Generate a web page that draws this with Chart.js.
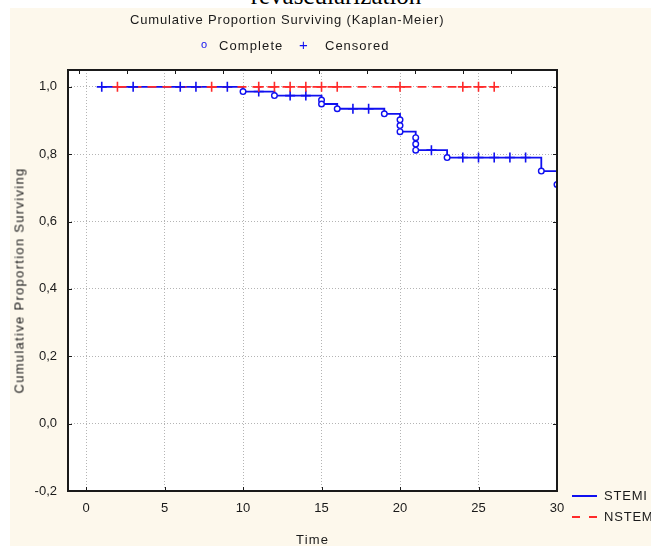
<!DOCTYPE html>
<html>
<head>
<meta charset="utf-8">
<script src="https://cdn.jsdelivr.net/npm/chart.js@4.4.1/dist/chart.umd.min.js"></script>
<style>
  body { margin: 0; background: #fff; }
  #wrap { position: relative; width: 651px; height: 546px; overflow: hidden; font-family: "Liberation Sans", Arial, sans-serif; color: #1a1a1a; }
  #bg { position: absolute; left: 10px; top: 8px; right: 0; bottom: 0; background: #fdf8ec; }
  #cap { position: absolute; left: 0; width: 672px; top: -18px; text-align: center; font: 25px "Liberation Serif", "Times New Roman", serif; color: #000; }
  #km { position: absolute; left: 0; top: 0; }
  .txt { position: absolute; font-size: 13px; white-space: nowrap; }
  .sw { position: absolute; height: 0; }
  #ytitle { position: absolute; left: -131px; top: 273px; width: 300px; text-align: center; transform: rotate(-90deg); letter-spacing: 1.3px; }
</style>
</head>
<body>
<div id="wrap">
  <div id="bg"></div>
  <div id="cap">revascularization</div>
  <canvas id="km" width="651" height="546"></canvas>
  <div class="txt" style="left:130px; top:12px; letter-spacing:0.85px;">Cumulative Proportion Surviving (Kaplan-Meier)</div>
  <div class="txt" style="left:201px; top:38px; color:#1010f0; font-size:11px;">o</div>
  <div class="txt" style="left:219px; top:38px; letter-spacing:1.1px;">Complete</div>
  <div class="txt" style="left:299px; top:36px; color:#1010f0; font-size:15px;">+</div>
  <div class="txt" style="left:325px; top:38px; letter-spacing:1px;">Censored</div>
  <div class="txt" id="ytitle">Cumulative Proportion Surviving</div>
  <div class="txt" style="left:296px; top:532px; letter-spacing:1.2px;">Time</div>
  <div class="sw" style="left:572px; top:495px; width:25px; border-top:2px solid #1010f0;"></div>
  <div class="txt" style="left:604px; top:488px; letter-spacing:0.8px;">STEMI</div>
  <div class="sw" style="left:572px; top:516px; width:8px; border-top:2px solid #ff2a2a;"></div>
  <div class="sw" style="left:589px; top:516px; width:8px; border-top:2px solid #ff2a2a;"></div>
  <div class="txt" style="left:604px; top:509px; letter-spacing:0.8px;">NSTEMI</div>
</div>
<script>
// Kaplan-Meier, STEMI: steps of the curve
const stemiTimes = [1, 10, 12, 15, 16, 19, 20, 21, 23, 29, 30];
const stemiSurv = [1.0, 0.986, 0.974, 0.949, 0.935, 0.920, 0.867, 0.812, 0.790, 0.750, 0.710];

// STEMI complete (events)
const stemiEventTimes = [10, 12, 15, 15, 16, 19, 20, 20, 20, 21, 21, 21, 23, 29, 30];
const stemiEventSurv = [0.986, 0.974, 0.961, 0.949, 0.935, 0.920, 0.902, 0.885, 0.867, 0.849, 0.830, 0.812, 0.790, 0.750, 0.710];

// STEMI censored
const stemiCensTimes = [1, 3, 6, 7, 9, 11, 13, 14, 17, 18, 22, 24, 25, 26, 27, 28];
const stemiCensSurv = [1, 1, 1, 1, 1, 0.986, 0.974, 0.974, 0.935, 0.935, 0.812, 0.790, 0.790, 0.790, 0.790, 0.790];

// NSTEMI: no events, only censored
const nstemiTimes = [2, 26];
const nstemiSurv = [1.0, 1.0];
const nstemiCensTimes = [2, 8, 11, 12, 13, 14, 15, 16, 20, 24, 25, 26];
const nstemiCensSurv = [1, 1, 1, 1, 1, 1, 1, 1, 1, 1, 1, 1];

// axis
const xTickValues = [0, 5, 10, 15, 20, 25, 30];
const yTickValues = [-0.2, 0, 0.2, 0.4, 0.6, 0.8, 1.0];

const BLUE = '#1010f0';
const RED = '#ff2a2a';
const INK = '#1a1a1a';

function pts(xs, ys) {
    return xs.map((x, i) => ({ x: x, y: ys[i] }));
}

// cadre noir + petites graduations vers l'interieur
const frameTicks = {
    id: 'frameTicks',
    afterDatasetsDraw(chart) {
        const { ctx, chartArea: a, scales } = chart;
        ctx.save();
        ctx.strokeStyle = INK;
        ctx.lineWidth = 1;
        ctx.beginPath();
        scales.x.ticks.forEach(t => {
            const px = Math.round(scales.x.getPixelForValue(t.value)) + 0.5;
            ctx.moveTo(px, a.bottom);
            ctx.lineTo(px, a.bottom - 4);
        });
        for (let k = 0; k <= 9; k++) {
            const px = Math.round(scales.x2.getPixelForValue(k)) + 0.5;
            ctx.moveTo(px, a.top);
            ctx.lineTo(px, a.top + 4);
        }
        scales.y.ticks.forEach(t => {
            const py = Math.round(scales.y.getPixelForValue(t.value)) + 0.5;
            ctx.moveTo(a.left, py);
            ctx.lineTo(a.left + 4, py);
            ctx.moveTo(a.right, py);
            ctx.lineTo(a.right - 4, py);
        });
        ctx.stroke();
        ctx.lineWidth = 2;
        ctx.strokeRect(a.left, a.top, a.right - a.left, a.bottom - a.top);
        ctx.restore();
    }
};

const plotBg = {
    id: 'plotBg',
    beforeDraw(chart) {
        const { ctx, chartArea: a } = chart;
        ctx.save();
        ctx.fillStyle = '#ffffff';
        ctx.fillRect(a.left, a.top, a.right - a.left, a.bottom - a.top);
        ctx.restore();
    }
};

const keepTicks = values => scale => {
    scale.ticks = values.map(v => ({ value: v }));
};

new Chart(document.getElementById('km'), {
    type: 'scatter',
    data: {
        datasets: [
            {
                label: 'NSTEMI censored',
                data: pts(nstemiCensTimes, nstemiCensSurv),
                pointStyle: 'cross',
                pointRadius: 5,
                borderColor: RED,
                backgroundColor: RED,
                pointBorderWidth: 1.6
            },
            {
                label: 'STEMI censored',
                data: pts(stemiCensTimes, stemiCensSurv),
                pointStyle: 'cross',
                pointRadius: 5,
                borderColor: BLUE,
                backgroundColor: BLUE,
                pointBorderWidth: 1.6
            },
            {
                label: 'STEMI complete',
                data: pts(stemiEventTimes, stemiEventSurv),
                pointStyle: 'circle',
                pointRadius: 2.8,
                borderColor: BLUE,
                backgroundColor: '#ffffff',
                pointBorderWidth: 1.4
            },
            {
                label: 'NSTEMI',
                data: pts(nstemiTimes, nstemiSurv),
                showLine: true,
                pointRadius: 0,
                borderColor: RED,
                borderWidth: 1.6,
                borderDash: [9, 6]
            },
            {
                label: 'STEMI',
                data: pts(stemiTimes, stemiSurv),
                showLine: true,
                stepped: true,
                pointRadius: 0,
                borderColor: BLUE,
                borderWidth: 1.8
            }
        ]
    },
    options: {
        responsive: false,
        animation: false,
        events: [],
        layout: { padding: { top: 70, right: 94, left: 0, bottom: 0 } },
        plugins: {
            legend: { display: false },
            tooltip: { enabled: false },
            title: { display: false }
        },
        scales: {
            x: {
                type: 'linear',
                position: 'bottom',
                min: -1.15,
                max: 30,
                afterFit: s => { s.height = 55; },
                afterBuildTicks: keepTicks(xTickValues),
                grid: { color: '#b4b4b4', lineWidth: 1, drawTicks: false },
                border: { display: false, dash: [1, 2] },
                ticks: { color: INK, padding: 10, font: { family: 'Liberation Sans', size: 13 } }
            },
            x2: {
                type: 'linear',
                position: 'top',
                display: false,
                min: -0.229,
                max: 9.958
            },
            y: {
                type: 'linear',
                min: -0.2,
                max: 1.05,
                afterFit: s => { s.width = 68; },
                afterBuildTicks: keepTicks(yTickValues),
                grid: { color: '#b4b4b4', lineWidth: 1, drawTicks: false },
                border: { display: false, dash: [1, 2] },
                ticks: {
                    color: INK,
                    padding: 11,
                    font: { family: 'Liberation Sans', size: 13 },
                    callback: v => v.toFixed(1).replace('.', ',')
                }
            }
        }
    },
    plugins: [plotBg, frameTicks]
});
</script>
</body>
</html>
